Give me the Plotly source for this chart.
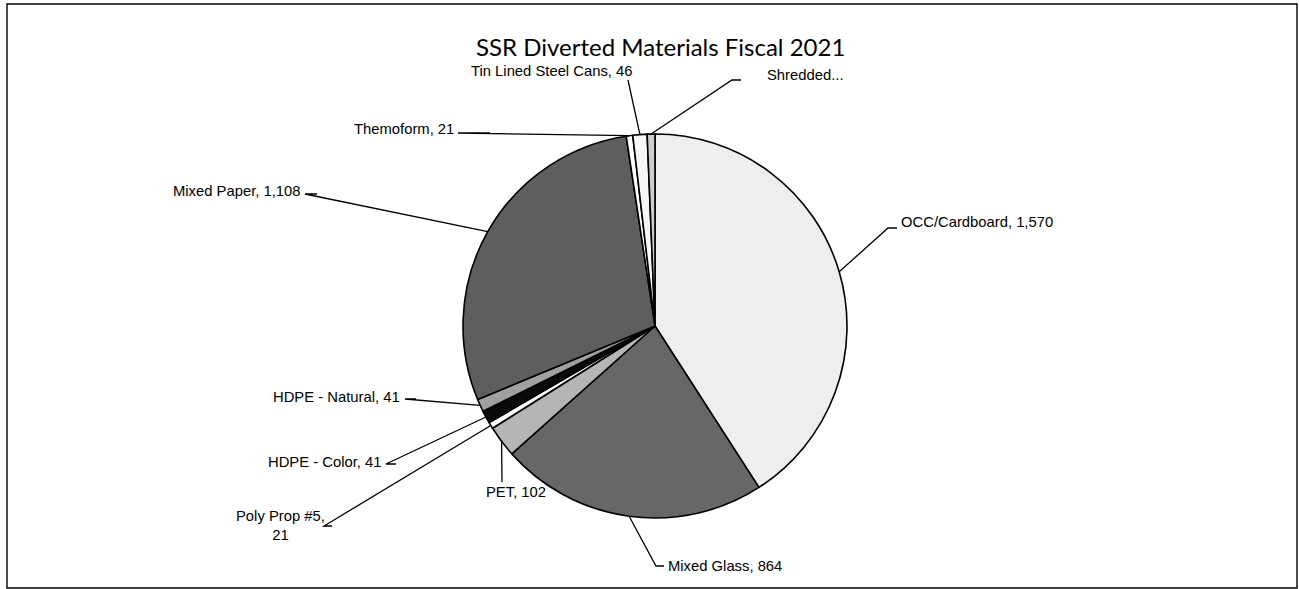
import math
import plotly.graph_objects as go

# ---------------- data ----------------
categories = ["OCC/Cardboard", "Mixed Glass", "PET", "Poly Prop #5", "HDPE - Color",
              "HDPE - Natural", "Mixed Paper", "Themoform", "Tin Lined Steel Cans", "Shredded"]
values = [1570, 864, 102, 21, 41, 41, 1108, 21, 46, 25]
display_labels = ["OCC/Cardboard, 1,570", "Mixed Glass, 864", "PET, 102", "Poly Prop #5,<br>21",
                  "HDPE - Color, 41", "HDPE - Natural, 41", "Mixed Paper, 1,108", "Themoform, 21",
                  "Tin Lined Steel Cans, 46", "Shredded..."]
title_text = "SSR Diverted Materials Fiscal 2021"

# ---------------- styles / layout ----------------
W, H = 1299, 589
CX, CY, R = 655, 326, 192
slice_colors = ["#eeeeee", "#676767", "#b5b5b5", "#ffffff", "#0a0a0a",
                "#a0a0a0", "#5e5e5e", "#ffffff", "#f7f7f7", "#cdcdcd"]

# label text anchors (px) and leader elbow points (px)
label_pos = [
    dict(x=899, y=222, xa="left"),
    dict(x=666, y=566, xa="left"),
    dict(x=516, y=492, xa="center"),
    dict(x=280, y=525, xa="center"),
    dict(x=383, y=462, xa="right"),
    dict(x=402, y=397, xa="right"),
    dict(x=303, y=191, xa="right"),
    dict(x=456, y=129, xa="right"),
    dict(x=552, y=71, xa="center"),
    dict(x=765, y=75, xa="left"),
]
leader_pts = [
    [(897, 228), (888, 228)],
    [(664, 566), (656, 566)],
    [(502, 482)],
    [(332, 526), (324, 526)],
    [(396, 464), (386, 464)],
    [(416, 399), (405, 399)],
    [(317, 194), (305, 194)],
    [(490, 133), (458, 133)],
    [(628, 80)],
    [(741, 80), (732, 80)],
]


def px(x):
    return x / W


def py(y):
    return 1 - y / H


total = sum(values)
fig = go.Figure()
fig.add_trace(go.Pie(
    labels=categories, values=values, sort=False, direction="clockwise", rotation=0,
    textinfo="none", hoverinfo="label+value",
    marker=dict(colors=slice_colors, line=dict(color="#000000", width=1.6)),
    domain=dict(x=[px(CX - R), px(CX + R)], y=[py(CY + R), py(CY - R)]),
    showlegend=False,
))

shapes = []
annotations = []
cum = 0
for i, v in enumerate(values):
    mid = (cum + v / 2) / total * 2 * math.pi
    cum += v
    ex = CX + R * math.sin(mid)
    ey = CY - R * math.cos(mid)
    pts = leader_pts[i] + [(ex, ey)]
    path = "M " + " L ".join(f"{px(a):.5f},{py(b):.5f}" for a, b in pts)
    shapes.append(dict(type="path", xref="paper", yref="paper", path=path,
                       line=dict(color="#000000", width=1.3)))
    lp = label_pos[i]
    annotations.append(dict(x=px(lp["x"]), y=py(lp["y"]), xref="paper", yref="paper",
                            text=display_labels[i], showarrow=False, xanchor=lp["xa"],
                            yanchor="middle", align="center",
                            font=dict(family="Liberation Sans, Arial", size=14.8, color="#000000")))

annotations.append(dict(x=px(660), y=py(47), xref="paper", yref="paper", text=title_text,
                        showarrow=False, xanchor="center", yanchor="middle",
                        font=dict(family="Lato, Open Sans", size=24, color="#000000")))

shapes.append(dict(type="rect", xref="paper", yref="paper", x0=px(7), x1=px(1297), y0=py(588), y1=py(4),
                   line=dict(color="#000000", width=1.4)))

fig.update_layout(width=W, height=H, margin=dict(l=0, r=0, t=0, b=0),
                  paper_bgcolor="#ffffff", plot_bgcolor="#ffffff",
                  shapes=shapes, annotations=annotations)
fig.write_html("out.html", config={"displayModeBar": False},
               post_script="document.body.style.margin='0px';document.body.style.overflow='hidden';")
